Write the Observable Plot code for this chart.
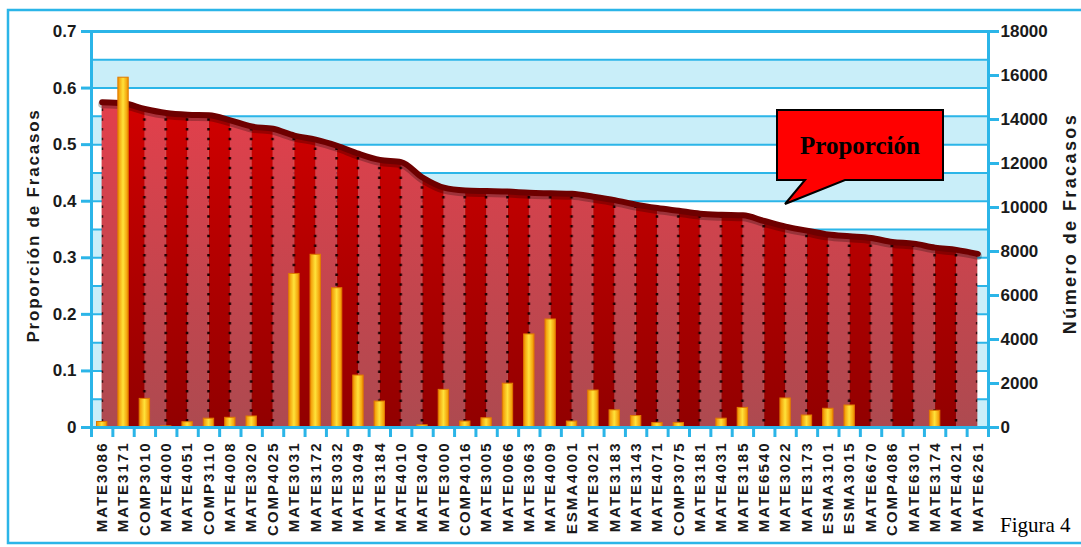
<!DOCTYPE html>
<html><head><meta charset="utf-8">
<script src="https://cdn.jsdelivr.net/npm/d3@7"></script>
<script src="https://cdn.jsdelivr.net/npm/@observablehq/plot@0.6"></script>
<style>
html,body{margin:0;padding:0;background:#fff;}
#wrap{position:relative;width:1081px;height:547px;overflow:hidden;background:#fff;}
#wrap > svg{position:absolute;left:0;top:0;display:block;}
g[aria-label="x-axis tick label"] text{letter-spacing:2px;}
</style></head><body><div id="wrap"></div>
<script>
// ---- data ----
const courses = ["MATE3086","MATE3171","COMP3010","MATE4000","MATE4051","COMP3110","MATE4008","MATE3020","COMP4025","MATE3031","MATE3172","MATE3032","MATE3049","MATE3184","MATE4010","MATE3040","MATE3000","COMP4016","MATE3005","MATE0066","MATE3063","MATE4009","ESMA4001","MATE3021","MATE3183","MATE3143","MATE4071","COMP3075","MATE3181","MATE4031","MATE3185","MATE6540","MATE3022","MATE3173","ESMA3101","ESMA3015","MATE6670","COMP4086","MATE6301","MATE3174","MATE4021","MATE6261"];
const proporcion = [0.575,0.573,0.563,0.556,0.553,0.552,0.543,0.532,0.528,0.516,0.509,0.498,0.484,0.473,0.469,0.442,0.424,0.419,0.418,0.417,0.415,0.414,0.413,0.408,0.402,0.394,0.388,0.383,0.378,0.376,0.375,0.365,0.355,0.348,0.341,0.338,0.335,0.328,0.325,0.318,0.314,0.307];
const fracasos = [250,15900,1300,50,240,400,440,500,0,6980,7850,6330,2360,1180,0,100,1710,270,420,1990,4230,4910,270,1680,780,520,200,200,0,400,890,0,1320,545,850,1000,0,0,0,760,0,0];
const leftTicks = [0,0.1,0.2,0.3,0.4,0.5,0.6,0.7];
const rightTicks = [0,2000,4000,6000,8000,10000,12000,14000,16000,18000];
const gridLines = [0.05,0.1,0.15,0.2,0.25,0.3,0.35,0.4,0.45,0.5,0.55,0.6,0.65,0.7];
const blueBands = [0,0.1,0.2,0.3,0.4,0.5,0.6];
const leftTitle = "Proporción de Fracasos";
const rightTitle = "Número de Fracasos";
const calloutText = "Proporción";
const caption = "Figura 4";

// ---- layout ----
const W = 1081, H = 547, ML = 91, MR = 93, MT = 31, MB = 120;
const PMAX = 0.7, NMAX = 18000, k = PMAX / NMAX;
const bw = (W - ML - MR) / courses.length;
const cyan = "#2bb5e8";
const ink = "#1a1a1a";
const sans = "'Liberation Sans', Arial, sans-serif";

const data = courses.map((c, i) => ({course: c, p: proporcion[i], n: fracasos[i]}));

const chart = Plot.plot({
  width: W, height: H,
  marginLeft: ML, marginRight: MR, marginTop: MT, marginBottom: MB,
  style: {background: "transparent", fontFamily: sans, overflow: "visible"},
  x: {domain: courses, padding: 0, round: false, axis: null},
  y: {domain: [0, PMAX], axis: null},
  marks: [
    Plot.rect(blueBands, {y1: d => d, y2: d => d + 0.05, fill: "#c9eef9"}),
    Plot.ruleY(gridLines, {stroke: cyan, strokeWidth: 2}),
    Plot.areaY(data, {x: "course", y: "p", curve: "monotone-x", fill: "url(#stripes)"}),
    Plot.lineY(data, {x: "course", y: "p", curve: "monotone-x", stroke: "#000", strokeOpacity: 0.25, strokeWidth: 8, dy: 2}),
    Plot.lineY(data, {x: "course", y: "p", curve: "monotone-x", stroke: "#6e0000", strokeWidth: 6, strokeLinecap: "round"}),
    Plot.barY(data, {filter: d => d.n > 0, x: "course", y: d => d.n * k, fill: "url(#gBar)", stroke: "#e07a00", strokeWidth: 1, insetLeft: 5.5, insetRight: 5.5}),
    Plot.frame({stroke: cyan, strokeWidth: 3}),
    Plot.axisY(leftTicks, {anchor: "left", tickSize: 10, tickPadding: 5, stroke: cyan, strokeWidth: 3, fill: ink, fontSize: 17, fontWeight: "bold", tickFormat: d => String(d), label: null}),
    Plot.axisY(rightTicks.map(v => v * k), {anchor: "right", tickSize: 10, tickPadding: 2, stroke: cyan, strokeWidth: 3, fill: ink, fontSize: 17, fontWeight: "bold", tickFormat: d => String(Math.round(d / k)), label: null}),
    Plot.axisX({anchor: "bottom", tickSize: 0, tickPadding: 14, tickRotate: -90, fill: ink, fontSize: 15, fontWeight: "bold", label: null}),
    Plot.axisX(courses, {anchor: "bottom", tickSize: 10, text: null, stroke: cyan, strokeWidth: 3, dx: -bw / 2, label: null}),
    Plot.axisX([courses[courses.length - 1]], {anchor: "bottom", tickSize: 10, text: null, stroke: cyan, strokeWidth: 3, dx: bw / 2, label: null}),
    Plot.text([leftTitle], {text: d => d, frameAnchor: "left", textAnchor: "middle", dx: -58, dy: -4, rotate: -90, fontSize: 17, fontWeight: "bold", fill: ink}),
    Plot.text([rightTitle], {text: d => d, frameAnchor: "right", textAnchor: "middle", dx: 82, dy: -6, rotate: -90, fontSize: 18, fontWeight: "bold", fill: ink})
  ]
});

document.getElementById("wrap").appendChild(chart);

// ---- defs: striped area fill and bar gradient, aligned to the x scale ----
const svg = d3.select(chart);
const xs = chart.scale("x");
const step = xs.step || xs.bandwidth || bw;
const x0 = xs.range[0];
const defs = svg.insert("defs", ":first-child");
const gl = defs.append("linearGradient").attr("id", "gLight").attr("x1", 0).attr("y1", 0).attr("x2", 0).attr("y2", 1);
gl.append("stop").attr("offset", "0%").attr("stop-color", "#ee3d4a");
gl.append("stop").attr("offset", "100%").attr("stop-color", "#ad4a50");
const gd = defs.append("linearGradient").attr("id", "gDark").attr("x1", 0).attr("y1", 0).attr("x2", 0).attr("y2", 1);
gd.append("stop").attr("offset", "0%").attr("stop-color", "#e00000");
gd.append("stop").attr("offset", "100%").attr("stop-color", "#910000");
const gb = defs.append("linearGradient").attr("id", "gBar").attr("x1", 0).attr("y1", 0).attr("x2", 1).attr("y2", 0);
gb.append("stop").attr("offset", "0%").attr("stop-color", "#f09000");
gb.append("stop").attr("offset", "50%").attr("stop-color", "#ffe23a");
gb.append("stop").attr("offset", "100%").attr("stop-color", "#f09000");
const ph = H - MT - MB;
const pat = defs.append("pattern").attr("id", "stripes").attr("patternUnits", "userSpaceOnUse")
  .attr("x", x0).attr("y", MT).attr("width", 2 * step).attr("height", ph);
pat.append("rect").attr("x", 0).attr("y", 0).attr("width", step).attr("height", ph).attr("fill", "url(#gLight)");
pat.append("rect").attr("x", step).attr("y", 0).attr("width", step).attr("height", ph).attr("fill", "url(#gDark)");
[0, step, 2 * step].forEach(px => {
  pat.append("line").attr("x1", px).attr("x2", px).attr("y1", 0).attr("y2", ph)
    .attr("stroke", "#1a0000").attr("stroke-width", 2.5).attr("stroke-dasharray", "2.5 7.2");
});

// letter spacing of the axis titles
svg.selectAll("text").filter(function () { return this.textContent === leftTitle; }).style("letter-spacing", "1.8px");
svg.selectAll("text").filter(function () { return this.textContent === rightTitle; }).style("letter-spacing", "2.4px");

// ---- overlay: outer frame, callout, caption ----
const ov = d3.select("#wrap").append("svg").attr("class", "overlay").attr("width", W).attr("height", H);
ov.append("rect").attr("x", 8).attr("y", 10).attr("width", W + 20).attr("height", 533)
  .attr("fill", "none").attr("stroke", cyan).attr("stroke-width", 2.5);
ov.append("path").attr("d", "M777,110 H943 V180 H845 L785,204 L805,180 H777 Z")
  .attr("fill", "#ff0000").attr("stroke", "#000").attr("stroke-width", 2).attr("stroke-linejoin", "miter");
ov.append("text").attr("x", 860).attr("y", 154).attr("text-anchor", "middle")
  .attr("font-family", "'Liberation Serif', 'Times New Roman', serif").attr("font-weight", "bold").attr("font-size", 25)
  .attr("fill", "#000").text(calloutText);
ov.append("text").attr("x", 1000).attr("y", 532)
  .attr("font-family", "'Liberation Serif', 'Times New Roman', serif").attr("font-size", 21)
  .attr("fill", "#000").text(caption);
</script></body></html>
